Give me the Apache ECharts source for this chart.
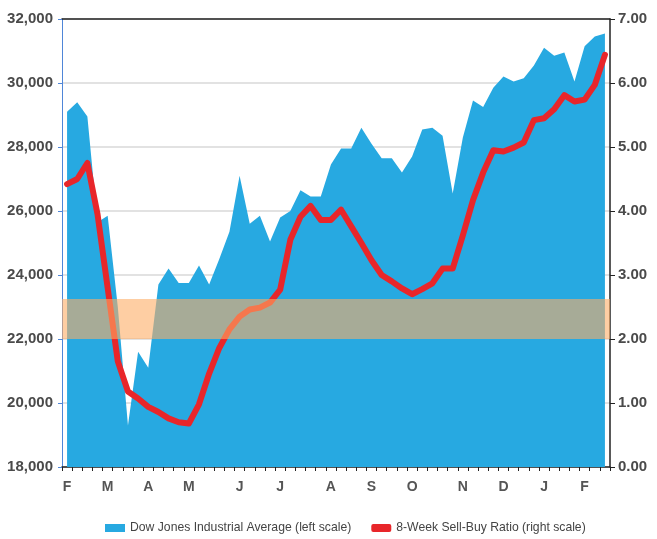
<!DOCTYPE html>
<html>
<head>
<meta charset="utf-8">
<script src="https://cdn.jsdelivr.net/npm/echarts@6/dist/echarts.min.js"></script>
<style>
html,body{margin:0;padding:0;background:#fff;}
#chart{width:657px;height:539px;}
</style>
</head>
<body>
<div id="chart"></div>
<script>
// Weekly data (54 weeks)
var weekCount = 54;
var monthLabels = ['F','M','A','M','J','J','A','S','O','N','D','J','F'];
var monthLabelIdx = [0,4,8,12,17,21,26,30,34,39,43,47,51];
var djia = [
  29100,29400,28950,25650,25850,23000,19300,21600,21100,23700,
  24200,23750,23750,24300,23700,24500,25350,27100,25600,25850,
  25050,25800,26000,26650,26450,26450,27450,27950,27950,28600,
  28100,27650,27650,27200,27700,28550,28600,28350,26550,28300,
  29450,29250,29850,30200,30050,30150,30550,31100,30850,30950,
  30050,31150,31450,31550
];
var sellBuy = [
  4.42,4.50,4.75,3.95,2.80,1.65,1.18,1.07,0.94,0.86,
  0.76,0.70,0.68,0.98,1.46,1.86,2.15,2.35,2.46,2.49,
  2.57,2.77,3.55,3.91,4.08,3.86,3.86,4.02,3.76,3.50,
  3.23,3.00,2.90,2.79,2.70,2.78,2.87,3.10,3.10,3.62,
  4.17,4.60,4.95,4.93,4.99,5.07,5.42,5.45,5.59,5.81,
  5.71,5.74,5.97,6.44
];
var bandLow = 22000, bandHigh = 23250;

var categories = [];
for (var i = 0; i < weekCount; i++) categories.push('W' + (i + 1));
var labelMap = {};
monthLabelIdx.forEach(function (idx, k) { labelMap[idx] = monthLabels[k]; });

var FONT = '"Liberation Sans", Arial, sans-serif';
var chart = echarts.init(document.getElementById('chart'), null, {renderer: 'canvas'});
chart.setOption({
  animation: false,
  backgroundColor: '#ffffff',
  grid: {left: 62, right: 47, top: 19, bottom: 72},
  legend: {
    top: 517, left: 100,
    itemWidth: 20, itemHeight: 8, itemGap: 20,
    textStyle: {fontFamily: FONT, fontSize: 12.2, color: '#444'},
    data: [
      {name: 'Dow Jones Industrial Average (left scale)', icon: 'rect'},
      {name: '8-Week Sell-Buy Ratio (right scale)', icon: 'roundRect'}
    ]
  },
  xAxis: [
    {
      type: 'category', data: categories, boundaryGap: true, position: 'bottom',
      axisLine: {lineStyle: {color: '#222', width: 1.5}},
      axisTick: {show: true, interval: 0, length: 4, lineStyle: {color: '#222', width: 1}},
      axisLabel: {
        interval: 0, margin: 13, color: '#555', fontFamily: FONT, fontSize: 14, fontWeight: 'bold',
        formatter: function (v, idx) { return labelMap[idx] || ''; }
      },
      splitLine: {show: false}
    },
    {
      type: 'category', data: categories, boundaryGap: true, position: 'top',
      axisLine: {show: true, lineStyle: {color: '#222', width: 1.5}},
      axisTick: {show: false}, axisLabel: {show: false}, splitLine: {show: false}
    }
  ],
  yAxis: [
    {
      type: 'value', min: 18000, max: 32000, interval: 2000, position: 'left',
      axisLine: {show: true, lineStyle: {color: '#4f86d8', width: 1}},
      axisTick: {show: true, length: 4, lineStyle: {color: '#4f86d8'}},
      axisLabel: {
        color: '#4a4a4a', fontFamily: FONT, fontSize: 15, fontWeight: 'bold', margin: 9,
        formatter: function (v) { return v.toLocaleString('en-US'); }
      },
      splitLine: {show: true, lineStyle: {color: '#d9d9d9', width: 1.5}}
    },
    {
      type: 'value', min: 0, max: 7, interval: 1, position: 'right',
      axisLine: {show: true, lineStyle: {color: '#222', width: 1.5}},
      axisTick: {show: true, length: 5, lineStyle: {color: '#222'}},
      axisLabel: {
        color: '#4a4a4a', fontFamily: FONT, fontSize: 15, fontWeight: 'bold', margin: 8,
        formatter: function (v) { return v.toFixed(2); }
      },
      splitLine: {show: false}
    }
  ],
  series: [
    {
      name: 'Dow Jones Industrial Average (left scale)',
      type: 'line', yAxisIndex: 0, data: djia,
      symbol: 'none', lineStyle: {width: 0, color: '#27a9e1'},
      itemStyle: {color: '#27a9e1'},
      areaStyle: {color: '#27a9e1', opacity: 1, origin: 'start'},
      z: 2
    },
    {
      name: '8-Week Sell-Buy Ratio (right scale)',
      type: 'line', yAxisIndex: 1, data: sellBuy,
      symbol: 'none', lineStyle: {width: 6, color: '#e8262a', join: 'round', cap: 'round'},
      itemStyle: {color: '#e8262a'},
      z: 3
    },
    {
      name: 'band', type: 'line', yAxisIndex: 0, data: [], z: 10,
      markArea: {
        silent: true, z: 10,
        itemStyle: {color: 'rgba(254,174,102,0.6)'},
        data: [[{yAxis: bandLow}, {yAxis: bandHigh}]]
      }
    }
  ]
});
</script>
</body>
</html>
